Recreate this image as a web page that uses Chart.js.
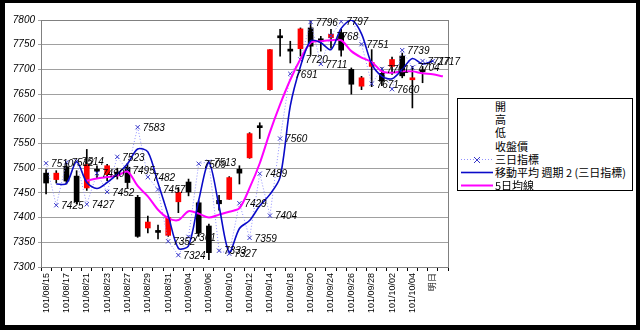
<!DOCTYPE html>
<html>
<head>
<meta charset="utf-8">
<script src="https://cdn.jsdelivr.net/npm/chart.js@4.4.1/dist/chart.umd.min.js"></script>
<style>
  html, body { margin: 0; padding: 0; background: #000; }
  #paper { position: absolute; left: 5px; top: 3px; width: 631px; height: 322px; background: #fff; }
  #c { position: absolute; left: 0; top: 0; }
  #legend { position: absolute; left: 457px; top: 98px; width: 174px; height: 91px; border: 1px solid #000; background: #fff;
            font: 11px "Noto Sans CJK TC", sans-serif; color: #000; }
  #legend .item { position: absolute; left: 0; height: 12px; line-height: 12px; white-space: nowrap; }
  #legend svg { position: absolute; left: 2px; top: 0; }
  #legend span { position: absolute; left: 37px; top: 0; }
</style>
</head>
<body>
<div id="paper"></div>
<canvas id="c" width="640" height="330"></canvas>
<div id="legend"></div>
<script>
// 日期 (每兩格顯示一個)
const dates = ['101/08/15','101/08/16','101/08/17','101/08/20','101/08/21','101/08/22','101/08/23','101/08/24',
  '101/08/27','101/08/28','101/08/29','101/08/30','101/08/31','101/09/03','101/09/04','101/09/05','101/09/06',
  '101/09/07','101/09/10','101/09/11','101/09/12','101/09/13','101/09/14','101/09/17','101/09/18','101/09/19',
  '101/09/20','101/09/21','101/09/24','101/09/25','101/09/26','101/09/27','101/09/28','101/10/01','101/10/02',
  '101/10/03','101/10/04','101/10/05','明日',''];

// K線
const opens  = [7490,7477,7503,7484,7460,7496,7487,7492,7502,7441,7379,7372,7364,7432,7472,7430,7383,7435,7437,7498,
                7521,7584,7659,7768,7741,7742,7784,7762,7764,7774,7700,7666,7706,7692,7706,7727,7679,7698,null,null];
const highs  = [7497,7495,7510,7495,7538,7505,7508,7500,7510,7445,7403,7385,7403,7461,7478,7434,7387,7445,7483,7505,
                7572,7592,7740,7781,7757,7784,7798,7767,7781,7781,7703,7686,7740,7703,7725,7733,7706,7706,null,null];
const lows   = [7448,7470,7468,7428,7455,7480,7475,7478,7460,7360,7369,7357,7362,7410,7444,7362,7315,7415,7437,7468,
                7520,7560,7658,7727,7713,7727,7730,7737,7743,7727,7650,7659,7665,7667,7690,7683,7622,7673,null,null];
const closes = [7470,7490,7474,7432,7507,7494,7505,7486,7471,7362,7391,7370,7400,7451,7452,7369,7329,7428,7481,7490,
                7570,7582,7740,7764,7737,7782,7747,7756,7771,7739,7670,7683,7714,7676,7720,7687,7682,7695,null,null];

// 三日指標
const indicator = [7510,7425,7512,7514,7427,7490,7452,7523,7495,7583,7482,7457,7352,7324,7361,7509,7513,7333,7327,7429,
                   7359,7489,7404,7560,7691,7720,7796,7711,7768,7797,7806,7751,7671,7701,7660,7739,7704,7717,7717,null];
// 移動平均 週期 2 (三日指標)
const indicatorMA = [null,7468,7469,7513,7471,7459,7471,7488,7509,7539,7533,7470,7405,7338,7343,7435,7511,7423,7330,7378,
                     7394,7424,7447,7482,7626,7706,7758,7754,7740,7783,7800,7772,7711,7686,7681,7700,7722,7711,7717,null];
// 5日均線
const ma5 = [null,null,null,null,7475,7479,7482,7485,7493,7464,7443,7416,7399,7395,7413,7408,7400,7406,7412,7419,
             7460,7510,7573,7629,7679,7721,7754,7757,7759,7759,7737,7724,7715,7696,7693,7696,7696,7692,7690,7686];

const Y_MIN = 7300, Y_MAX = 7800;
const UP = '#ff0000', DOWN = '#000000';

// 三日指標數值標籤 (超出座標範圍的點不顯示)
const pointLabels = {
  id: 'pointLabels',
  afterDraw(chart) {
    const ctx = chart.ctx;
    const meta = chart.getDatasetMeta(2);
    ctx.save();
    ctx.font = 'italic 10px "Liberation Sans"';
    ctx.fillStyle = '#000';
    ctx.textBaseline = 'middle';
    meta.data.forEach((pt, i) => {
      const v = indicator[i];
      if (v == null || v > Y_MAX || v < Y_MIN) return;
      ctx.fillText(String(v), pt.x + 5, pt.y + 1);
    });
    ctx.restore();
  }
};

const plotBorder = {
  id: 'plotBorder',
  beforeDatasetsDraw(chart) {
    const { ctx, chartArea: a } = chart;
    ctx.save();
    ctx.strokeStyle = '#808080';
    ctx.lineWidth = 1;
    ctx.strokeRect(Math.round(a.left) + 0.5, Math.round(a.top) + 0.5, Math.round(a.width), Math.round(a.height));
    ctx.restore();
  }
};

new Chart(document.getElementById('c'), {
  type: 'bar',
  data: {
    labels: dates,
    datasets: [
      {
        label: 'body',
        data: opens.map((o, i) => o == null ? null : [o, closes[i]]),
        backgroundColor: opens.map((o, i) => closes[i] >= o ? UP : DOWN),
        barThickness: 5,
        minBarLength: 2,
        grouped: false,
        order: 2
      },
      {
        label: 'wick',
        data: lows.map((l, i) => l == null ? null : [l, highs[i]]),
        backgroundColor: '#000',
        barThickness: 1,
        grouped: false,
        order: 3
      },
      {
        type: 'line',
        label: '三日指標',
        data: indicator,
        borderColor: '#9090ff',
        borderWidth: 1,
        borderDash: [1, 2],
        pointStyle: 'crossRot',
        pointRadius: 3,
        pointBorderColor: '#3535c8',
        pointBorderWidth: 1,
        tension: 0,
        clip: 0,
        order: 1
      },
      {
        type: 'line',
        label: '移動平均 週期 2 (三日指標)',
        data: indicatorMA,
        borderColor: '#0a0ac8',
        borderWidth: 1.6,
        pointRadius: 0,
        tension: 0.3,
        clip: 0,
        order: 0
      },
      {
        type: 'line',
        label: '5日均線',
        data: ma5,
        borderColor: '#ff00ff',
        borderWidth: 2,
        pointRadius: 0,
        tension: 0.3,
        order: 0
      }
    ]
  },
  options: {
    responsive: false,
    animation: false,
    layout: { padding: { left: 5, right: 192, top: 20, bottom: 8 } },
    plugins: { legend: { display: false }, tooltip: { enabled: false } },
    scales: {
      x: {
        offset: true,
        afterFit: s => { s.height = 55; },
        grid: { drawOnChartArea: false, drawTicks: true, tickLength: 4, color: '#000', offset: true },
        border: { color: '#000' },
        ticks: {
          autoSkip: false, minRotation: 90, maxRotation: 90, padding: 2,
          color: '#000', font: { family: 'Liberation Sans', size: 9 },
          callback: (v, i) => i % 2 === 0 ? dates[i] : ''
        }
      },
      y: {
        min: Y_MIN, max: Y_MAX,
        afterFit: s => { s.width = 36; },
        grid: { color: '#a0a0a0', tickLength: 3 },
        border: { color: '#000' },
        ticks: {
          stepSize: 50, padding: 3, color: '#000',
          font: { family: 'Liberation Sans', size: 10, style: 'italic' },
          callback: v => String(v)
        }
      }
    }
  },
  plugins: [plotBorder, pointLabels]
});

// 圖例
const legendItems = [
  { text: '開' }, { text: '高' }, { text: '低' }, { text: '收盤價' },
  { text: '三日指標', kind: 'dot' },
  { text: '移動平均 週期 2 (三日指標)', kind: 'blue' },
  { text: '5日均線', kind: 'pink' }
];
const lg = document.getElementById('legend');
legendItems.forEach((it, k) => {
  const d = document.createElement('div');
  d.className = 'item';
  d.style.top = (1 + k * 13.2) + 'px';
  let svg = '';
  if (it.kind === 'dot') {
    svg = '<svg width="34" height="12"><line x1="1" y1="6.5" x2="33" y2="6.5" stroke="#9090ff" stroke-dasharray="1 2"/>' +
          '<path d="M14 4 L20 10 M20 4 L14 10" stroke="#3535c8"/></svg>';
  } else if (it.kind === 'blue') {
    svg = '<svg width="34" height="12"><line x1="1" y1="6.5" x2="33" y2="6.5" stroke="#0a0ac8" stroke-width="1.6"/></svg>';
  } else if (it.kind === 'pink') {
    svg = '<svg width="34" height="12"><line x1="1" y1="6.5" x2="33" y2="6.5" stroke="#ff00ff" stroke-width="2"/></svg>';
  }
  d.innerHTML = svg + '<span>' + it.text + '</span>';
  lg.appendChild(d);
});
</script>
</body>
</html>
